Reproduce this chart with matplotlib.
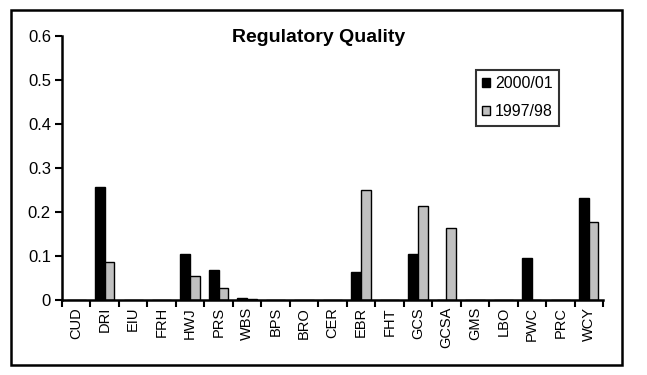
import numpy as np
import matplotlib
matplotlib.use("Agg")
import matplotlib.pyplot as plt
from matplotlib.patches import Rectangle

plt.rcParams.update({"font.family": "Liberation Sans"})

countries = ["CUD", "DRI", "EIU", "FRH", "HWJ", "PRS", "WBS", "BPS", "BRO", "CER",
             "EBR", "FHT", "GCS", "GCSA", "GMS", "LBO", "PWC", "PRC", "WCY"]
y2000 = [0, 0.256, 0, 0, 0.104, 0.068, 0.004, 0, 0, 0,
         0.064, 0, 0.104, 0, 0, 0, 0.095, 0, 0.232]
y1997 = [0, 0.087, 0, 0, 0.054, 0.028, 0.002, 0, 0, 0,
         0.250, 0, 0.214, 0.163, 0, 0, 0, 0, 0.177]

fig = plt.figure(figsize=(6.47, 3.75), dpi=100)
fig.patches.append(Rectangle((11 / 647, 1 - 365 / 375), 611 / 647, 355 / 375,
                             transform=fig.transFigure, fill=False, ec="black", lw=1.8))
ax = fig.add_axes([62 / 647, 75 / 375, 541 / 647, 264 / 375])

x = np.arange(len(countries))
w = 0.34
ax.bar(x - w / 2, y2000, w, color="black", edgecolor="black", lw=1, label="2000/01")
ax.bar(x + w / 2, y1997, w, color="#c0c0c0", edgecolor="black", lw=1, label="1997/98")

ax.set_xlim(-0.5, len(countries) - 0.5)
ax.set_ylim(0, 0.6)
ax.set_yticks(np.arange(0, 0.61, 0.1))
ax.set_yticklabels(["0"] + [f"{v:.1f}" for v in np.arange(0.1, 0.61, 0.1)], fontsize=12)
ax.set_xticks(np.arange(-0.5, len(countries), 1.0))
ax.set_xticklabels([])
ax.set_xticks(x, minor=True)
ax.set_xticklabels(countries, minor=True, rotation=90, fontsize=10.5)
ax.tick_params(axis="x", which="minor", length=0, pad=5)
ax.tick_params(axis="x", which="major", length=5, width=1.5, direction="out")
ax.tick_params(axis="y", length=5, width=1.5, direction="out", pad=3)
for s in ("top", "right"):
    ax.spines[s].set_visible(False)
for s in ("left", "bottom"):
    ax.spines[s].set_linewidth(1.8)

ax.text(0.475, 0.995, "Regulatory Quality", transform=ax.transAxes, ha="center",
        va="center", fontsize=14, fontweight="bold")

leg = fig.legend(loc="upper left", bbox_to_anchor=(476 / 647, 1 - 70 / 375),
                 fontsize=11.5, frameon=True, fancybox=False, edgecolor="black",
                 handlelength=0.5, handleheight=0.5, handletextpad=0.3,
                 borderpad=0.4, labelspacing=0.8, borderaxespad=0)
leg.get_frame().set_linewidth(1.5)

fig.savefig("out.png", dpi=100)
